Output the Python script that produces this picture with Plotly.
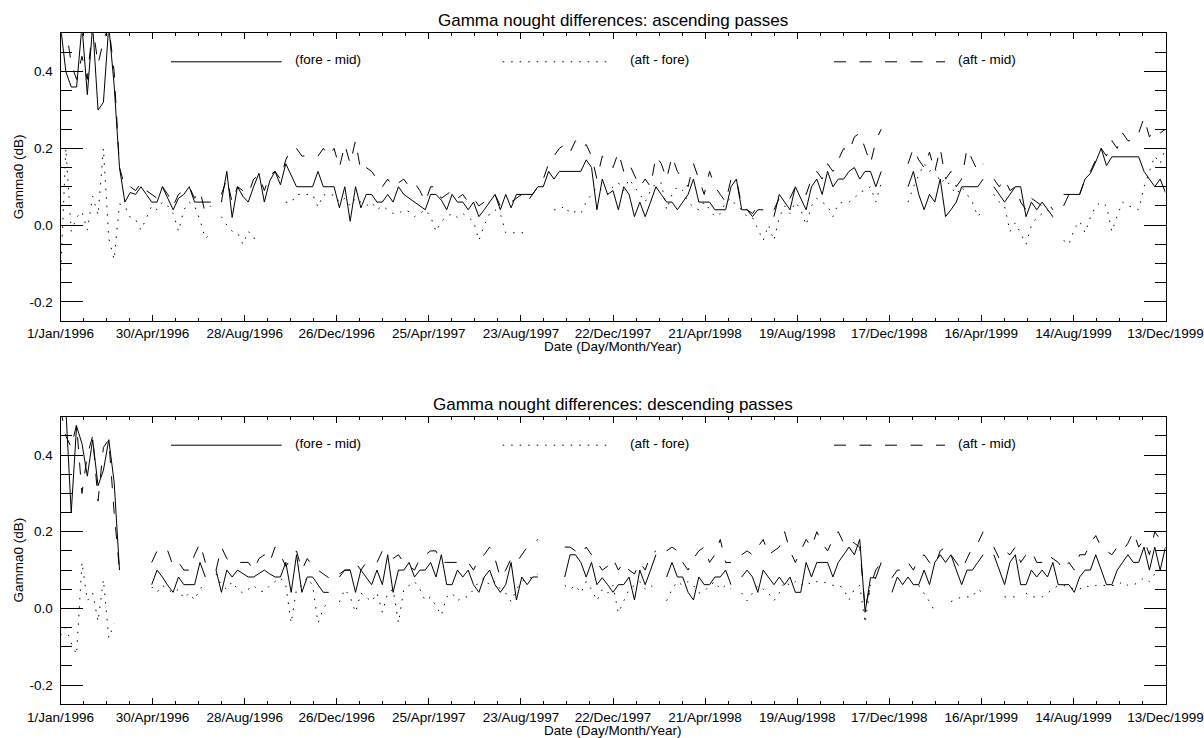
import pandas as pd
import plotly.graph_objects as go

N_WEEKS = 207
dates = pd.date_range("1996-01-01", periods=N_WEEKS, freq="7D")

# ---------------- ascending passes ----------------
asc_fore_mid = [
    0.52, 0.40, 0.36, 0.36, 0.52, 0.34, 0.52, 0.30, 0.32, 0.52,
    0.365, 0.15, 0.06, 0.085, 0.08, 0.10, 0.08, 0.06, 0.06, 0.10,
    0.07, 0.04, 0.07, 0.08, 0.10, 0.06, 0.06, 0.06, 0.06, None,
    0.06, 0.14, 0.02, 0.10, 0.075, 0.06, 0.10, 0.135, 0.06, 0.115,
    0.14, 0.105, 0.16, 0.13, 0.10, 0.10, 0.10, 0.10, 0.14, 0.10,
    0.10, 0.10, 0.045, 0.10, 0.01, 0.10, 0.045, 0.08, 0.08, 0.06,
    0.06, 0.08, 0.06, 0.10, 0.08, 0.07, 0.06, 0.05, 0.04, 0.08,
    0.08, 0.065, 0.04, 0.08, 0.06, 0.06, 0.04, 0.06, 0.022, 0.04,
    0.06, 0.08, 0.04, 0.08, 0.045, 0.08, 0.08, 0.08, 0.08, 0.10,
    0.10, 0.14, 0.12, 0.14, 0.14, 0.14, 0.14, 0.14, 0.17, 0.15,
    0.04, 0.12, 0.08, 0.09, 0.04, 0.10, 0.08, 0.022, 0.06, 0.022,
    0.06, 0.10, 0.08, 0.06, 0.06, 0.04, 0.06, 0.08, 0.12, 0.06,
    0.06, 0.06, 0.04, 0.04, 0.04, 0.10, 0.12, 0.04, 0.04, 0.022,
    0.04, 0.04, None, 0.022, 0.08, 0.06, 0.04, 0.10, 0.07, 0.04,
    0.10, 0.12, 0.08, 0.14, 0.10, 0.12, 0.12, 0.14, 0.15, 0.12,
    0.14, 0.14, 0.10, 0.14, None, None, None, None, 0.10, 0.14,
    0.08, 0.04, 0.08, 0.06, 0.12, 0.022, 0.04, 0.06, 0.10, 0.10,
    0.10, 0.10, 0.12, None, 0.10, 0.08, 0.06, 0.08, 0.10, 0.10,
    0.022, 0.06, 0.04, 0.06, 0.04, 0.022, None, 0.08, 0.08, 0.08,
    0.08, 0.12, 0.135, 0.165, 0.20, 0.155, 0.178, 0.178, 0.178, 0.178,
    0.178, 0.178, 0.14, 0.12, 0.10, 0.12, 0.085,
]
asc_aft_fore = [
    -0.14, 0.20, -0.016, 0.02, 0.035, -0.013, 0.075, 0.026, 0.20, -0.035,
    -0.09, 0.055, 0.05, 0.02, 0.015, -0.013, 0.018, 0.05, 0.04, 0.06,
    0.05, 0.03, -0.016, 0.04, 0.06, 0.05, 0.013, -0.035, -0.022, None,
    0.022, 0.0, -0.016, -0.02, -0.05, -0.016, -0.035, -0.03, None, None,
    None, None, 0.06, 0.058, 0.08, 0.08, 0.08, 0.08, 0.047, 0.08,
    0.075, 0.08, 0.06, 0.07, 0.05, 0.07, 0.06, 0.05, 0.06, 0.04,
    0.05, 0.04, 0.03, 0.03, 0.04, 0.035, 0.022, 0.03, 0.04, 0.022,
    -0.017, 0.01, 0.022, 0.03, 0.02, 0.03, 0.02, 0.01, -0.04, 0.0,
    0.03, 0.04, 0.03, -0.02, -0.02, -0.02, -0.02, -0.02, None, None,
    None, None, 0.04, 0.04, 0.05, 0.03, 0.035, 0.03, 0.06, 0.08,
    0.10, 0.09, 0.08, 0.10, 0.11, 0.09, 0.12, 0.10, 0.08, 0.06,
    0.09, 0.11, 0.11, 0.04, 0.08, 0.10, 0.09, 0.06, 0.047, 0.04,
    0.06, 0.04, 0.022, 0.03, 0.06, 0.07, 0.05, 0.04, 0.022, 0.02,
    -0.01, -0.04, 0.0, -0.04, 0.02, 0.05, 0.03, 0.06, 0.04, 0.0,
    0.05, 0.07, 0.06, 0.05, 0.022, 0.056, 0.06, 0.06, 0.07, 0.087,
    0.09, 0.10, 0.06, 0.11, None, None, None, None, 0.06, 0.10,
    0.13, 0.16, 0.14, 0.15, 0.11, 0.12, 0.10, 0.08, 0.10, 0.08,
    0.06, 0.022, 0.04, None, 0.08, 0.06, 0.05, -0.017, 0.006, -0.02,
    -0.05, 0.0, 0.02, 0.03, 0.04, 0.02, None, -0.04, -0.05, -0.01,
    0.01, -0.02, 0.02, 0.05, 0.06, 0.05, -0.017, 0.025, 0.06, 0.05,
    0.047, 0.04, 0.10, 0.14, 0.18, 0.16, 0.20,
]
asc_aft_mid = [
    0.52, 0.52, 0.42, 0.38, 0.44, 0.38, 0.52, 0.42, 0.48, 0.52,
    0.40, 0.15, 0.10, 0.10, 0.09, 0.11, 0.09, 0.08, 0.07, 0.10,
    0.08, 0.05, 0.08, 0.09, 0.10, 0.07, 0.09, 0.03, 0.05, None,
    0.08, 0.12, 0.06, 0.10, 0.09, 0.08, 0.12, 0.13, 0.09, 0.13,
    0.14, 0.12, 0.17, 0.20, 0.20, 0.18, 0.18, 0.18, 0.18, 0.20,
    0.18, 0.20, 0.15, 0.21, 0.16, 0.22, 0.14, 0.15, 0.14, 0.12,
    0.10, 0.12, 0.10, 0.11, 0.12, 0.10, 0.11, 0.09, 0.06, 0.10,
    0.10, 0.07, 0.08, 0.09, 0.07, 0.08, 0.06, 0.07, 0.05, 0.06,
    0.07, 0.08, 0.05, 0.06, 0.06, 0.07, 0.08, 0.06, 0.08, 0.10,
    0.12, 0.16, 0.18, 0.20, 0.21, 0.19, 0.22, 0.20, 0.21, 0.18,
    0.12, 0.18, 0.17, 0.15, 0.19, 0.14, 0.16, 0.13, 0.10, 0.12,
    0.10, 0.18, 0.16, 0.12, 0.18, 0.14, 0.12, 0.10, 0.16, 0.12,
    0.08, 0.14, 0.10, 0.08, 0.06, 0.12, 0.12, 0.05, 0.04, 0.03,
    0.05, 0.04, None, 0.04, 0.07, 0.06, 0.07, 0.10, 0.09, 0.08,
    0.12, 0.14, 0.12, 0.16, 0.14, 0.17, 0.20, 0.19, 0.23, 0.24,
    0.20, 0.16, 0.22, 0.25, None, None, None, None, 0.16, 0.20,
    0.17, 0.15, 0.19, 0.14, 0.20, 0.12, 0.14, 0.10, 0.12, 0.20,
    0.17, 0.14, 0.16, None, 0.12, 0.10, 0.12, 0.09, 0.10, 0.06,
    0.04, 0.07, 0.06, 0.05, 0.06, 0.04, None, 0.05, 0.08, 0.07,
    0.08, 0.12, 0.14, 0.17, 0.20, 0.18, 0.22, 0.20, 0.24, 0.22,
    0.22, 0.24, 0.28, 0.23, 0.25, 0.24, 0.25,
]

# ---------------- descending passes ----------------
desc_fore_mid = [
    0.52, 0.52, 0.25, 0.475, 0.43, 0.345, 0.44, 0.32, 0.36, 0.44,
    0.33, 0.10, None, None, None, None, None, 0.062, 0.10, 0.082,
    0.06, 0.042, 0.082, 0.062, 0.062, 0.062, 0.12, 0.082, None, 0.10,
    0.042, 0.10, 0.082, 0.10, 0.09, 0.082, 0.082, 0.09, 0.10, 0.09,
    0.082, 0.082, 0.12, 0.042, 0.14, 0.042, 0.082, 0.082, 0.062, 0.042,
    0.042, None, 0.082, 0.10, 0.10, 0.042, 0.10, 0.082, 0.062, 0.10,
    0.062, 0.14, 0.042, 0.10, 0.10, 0.12, 0.082, 0.10, 0.10, 0.12,
    0.082, 0.14, 0.062, 0.062, 0.10, 0.082, 0.10, 0.062, 0.042, 0.082,
    0.10, 0.062, 0.042, 0.062, 0.12, 0.022, 0.082, 0.062, 0.082, 0.082,
    None, None, None, None, 0.082, 0.14, 0.14, 0.12, 0.082, 0.12,
    0.062, 0.08, 0.062, 0.042, 0.062, 0.062, 0.082, 0.022, 0.10, 0.062,
    0.10, 0.14, None, 0.082, 0.12, 0.082, 0.082, 0.042, 0.022, 0.082,
    0.062, 0.062, 0.082, 0.082, 0.10, 0.062, None, 0.082, 0.10, 0.082,
    0.042, 0.10, 0.082, 0.062, 0.082, 0.062, 0.082, 0.042, 0.042, 0.12,
    0.082, 0.12, 0.12, 0.12, 0.082, 0.12, 0.14, 0.16, 0.14, 0.18,
    -0.01, 0.08, 0.08, 0.12, None, 0.042, 0.082, 0.062, 0.082, 0.062,
    0.062, 0.10, 0.062, 0.12, 0.14, 0.12, 0.14, 0.10, 0.062, 0.10,
    0.10, 0.12, 0.14, None, 0.14, 0.10, 0.062, 0.12, 0.14, 0.062,
    0.062, 0.10, 0.082, 0.10, 0.082, 0.12, 0.062, 0.062, 0.062, 0.042,
    0.082, 0.10, 0.10, 0.14, 0.10, 0.062, 0.062, 0.10, 0.12, 0.14,
    0.12, 0.12, 0.16, 0.10, 0.16, 0.10, 0.16,
]
desc_aft_fore = [
    -0.07, -0.05, -0.09, -0.12, 0.12, 0.02, 0.04, -0.034, 0.075, -0.077,
    -0.04, None, None, None, None, None, None, 0.056, 0.042, 0.06,
    0.05, 0.04, 0.05, 0.026, 0.04, 0.022, 0.052, 0.06, None, 0.09,
    0.06, 0.05, 0.07, 0.05, 0.04, 0.05, 0.06, 0.045, 0.044, 0.06,
    0.07, 0.08, 0.06, -0.038, 0.05, 0.06, 0.08, 0.06, -0.038, 0.0,
    0.02, None, 0.017, 0.05, 0.03, -0.01, 0.04, 0.03, 0.017, 0.04,
    -0.01, 0.04, 0.05, -0.038, 0.05, 0.06, 0.07, 0.05, 0.02, 0.03,
    0.004, -0.018, 0.03, 0.04, 0.02, 0.03, 0.03, 0.05, 0.07, 0.08,
    0.06, 0.07, 0.05, 0.04, 0.018, 0.05, 0.07, 0.08, 0.08, 0.09,
    None, None, None, None, 0.06, 0.05, 0.06, 0.04, 0.07, 0.05,
    0.02, 0.05, 0.04, 0.06, -0.012, 0.02, 0.05, 0.06, 0.07, 0.05,
    0.06, 0.05, None, 0.02, 0.05, 0.07, 0.06, 0.07, 0.06, 0.04,
    0.044, 0.06, 0.07, 0.05, 0.06, 0.05, None, 0.04, 0.02, 0.04,
    0.06, 0.05, 0.04, 0.02, 0.04, 0.07, 0.06, 0.07, 0.06, 0.07,
    0.062, 0.07, 0.07, 0.065, 0.06, 0.062, 0.05, 0.022, 0.05, 0.06,
    -0.038, 0.06, 0.08, None, None, None, None, None, None, None,
    0.06, 0.04, 0.018, -0.008, None, None, 0.018, 0.025, 0.03, 0.03,
    0.03, 0.05, 0.04, None, 0.05, None, 0.03, 0.03, 0.03, None,
    0.04, 0.03, 0.03, 0.03, 0.04, 0.05, 0.06, 0.06, 0.055, 0.05,
    0.05, 0.06, 0.055, 0.06, 0.06, 0.06, 0.06, 0.06, 0.07, 0.06,
    0.06, 0.07, 0.08, 0.07, 0.09, 0.10, None,
]
desc_aft_mid = [
    0.52, 0.45, 0.42, 0.48, 0.30, 0.40, 0.45, 0.28, 0.42, 0.44,
    0.25, 0.10, None, None, None, None, None, 0.12, 0.15, 0.16,
    0.15, 0.11, 0.12, 0.10, 0.10, 0.14, 0.17, 0.12, None, 0.10,
    0.16, 0.13, 0.12, 0.12, 0.12, 0.12, 0.10, 0.13, 0.14, 0.12,
    0.16, 0.14, 0.11, 0.13, 0.15, 0.10, 0.13, 0.11, 0.10, 0.09,
    0.08, None, 0.09, 0.10, 0.10, 0.12, 0.10, 0.12, 0.12, 0.12,
    0.15, 0.14, 0.13, 0.14, 0.12, 0.11, 0.10, 0.13, 0.14, 0.15,
    0.15, 0.12, 0.12, 0.12, 0.12, 0.12, 0.12, 0.10, 0.13, 0.14,
    0.16, 0.13, 0.08, 0.10, 0.13, 0.12, 0.14, 0.16, 0.17, 0.18,
    None, None, None, None, 0.16, 0.16, 0.15, 0.14, 0.16, 0.14,
    0.12, 0.10, 0.11, 0.13, 0.10, 0.12, 0.10, 0.09, 0.12, 0.10,
    0.14, 0.15, None, 0.15, 0.16, 0.15, 0.12, 0.10, 0.13, 0.15,
    0.16, 0.12, 0.14, 0.18, 0.12, 0.12, None, 0.14, 0.15, 0.14,
    0.16, 0.18, 0.14, 0.15, 0.16, 0.20, 0.15, 0.12, 0.15, 0.18,
    0.16, 0.20, 0.17, 0.15, 0.18, 0.20, 0.17, 0.18, 0.17, 0.16,
    0.0, 0.06, 0.10, 0.12, None, 0.08, 0.10, 0.10, 0.12, 0.10,
    0.13, 0.14, 0.12, 0.11, 0.15, 0.16, 0.14, 0.12, 0.10, 0.13,
    0.16, 0.17, 0.20, None, 0.16, 0.13, 0.15, 0.14, 0.16, 0.12,
    0.14, 0.15, 0.12, 0.12, 0.14, 0.13, 0.12, 0.10, 0.12, 0.10,
    0.14, 0.14, 0.17, 0.19, 0.16, 0.15, 0.14, 0.16, 0.15, 0.17,
    0.20, 0.16, 0.18, 0.14, 0.20, 0.18, 0.16,
]

tick_labels = ["1/Jan/1996", "30/Apr/1996", "28/Aug/1996", "26/Dec/1996",
               "25/Apr/1997", "23/Aug/1997", "22/Dec/1997", "21/Apr/1998",
               "19/Aug/1998", "17/Dec/1998", "16/Apr/1999", "14/Aug/1999",
               "13/Dec/1999"]
y_tick_vals = [-0.2, 0.0, 0.2, 0.4]
y_tick_text = ["-0.2", "0.0", "0.2", "0.4"]
series_names = ["(fore - mid)", "(aft - fore)", "(aft - mid)"]
panel_titles = ["Gamma nought differences: ascending passes",
                "Gamma nought differences: descending passes"]

FONT = "Liberation Sans, Arial, Helvetica, sans-serif"
W, H = 1204, 738
DOTTED = "1.5px,7px"
DASHED = "12px,13.5px"
dashes = ["solid", DOTTED, DASHED]

x_start = pd.Timestamp("1996-01-01")
x_end = pd.Timestamp("1999-12-13")
span = x_end - x_start
major = [x_start + span * k / 12 for k in range(13)]
minor = [x_start + span * k / 48 for k in range(49) if k % 4]

X0, X1 = 60.5, 1165.5
panels = [
    dict(top=33.3, bot=321.0, data=[asc_fore_mid, asc_aft_fore, asc_aft_mid]),
    dict(top=416.7, bot=704.3, data=[desc_fore_mid, desc_aft_fore, desc_aft_mid]),
]

fig = go.Figure()
annotations = []
shapes = []


def px(x):
    return x / W


def py(y):
    return 1 - y / H


for p, panel in enumerate(panels):
    xa = "x" if p == 0 else "x2"
    ya = "y" if p == 0 else "y2"
    for s, vals in enumerate(panel["data"]):
        fig.add_trace(go.Scatter(
            x=dates, y=vals, mode="lines", xaxis=xa, yaxis=ya,
            line=dict(color="black", width=1, dash=dashes[s]),
            connectgaps=False, showlegend=False, name=series_names[s]))

    axis_suffix = "" if p == 0 else "2"
    fig.update_layout(**{
        "xaxis" + axis_suffix: dict(
            domain=[px(X0), px(X1)], anchor=ya, type="date", automargin=False,
            range=[x_start, x_end], tickmode="array", tickvals=major,
            ticktext=tick_labels, ticks="inside", ticklen=6, tickwidth=1,
            tickcolor="black", showline=True, linecolor="black", linewidth=1,
            mirror="allticks", showgrid=False, zeroline=False, tickangle=0,
            tickfont=dict(family=FONT, size=13.5, color="black"),
            minor=dict(tickmode="array", tickvals=minor, ticks="inside",
                       ticklen=3, tickwidth=1, tickcolor="black", showgrid=False),
        ),
        "yaxis" + axis_suffix: dict(
            domain=[py(panel["bot"]), py(panel["top"])], anchor=xa, automargin=False,
            range=[-0.25, 0.5], tickmode="array", tickvals=y_tick_vals,
            ticktext=y_tick_text, ticks="inside", ticklen=22, tickwidth=1,
            tickcolor="black", showline=True, linecolor="black", linewidth=1,
            mirror="allticks", showgrid=False, zeroline=False,
            ticklabelstandoff=4,
            tickfont=dict(family=FONT, size=13.5, color="black"),
            minor=dict(tickmode="linear", tick0=0, dtick=0.05, ticks="inside",
                       ticklen=11, tickwidth=1, tickcolor="black", showgrid=False),
        ),
    })

    top, bot = panel["top"], panel["bot"]
    annotations.append(dict(text=panel_titles[p], x=px((X0 + X1) / 2), y=py(top - 12.5),
                            xref="paper", yref="paper", showarrow=False,
                            xanchor="center", yanchor="middle",
                            font=dict(family=FONT, size=17, color="black")))
    annotations.append(dict(text="Date (Day/Month/Year)", x=px((X0 + X1) / 2), y=py(bot + 26),
                            xref="paper", yref="paper", showarrow=False,
                            xanchor="center", yanchor="middle",
                            font=dict(family=FONT, size=13.5, color="black")))
    annotations.append(dict(text="Gamma0 (dB)", x=px(18), y=py((top + bot) / 2),
                            xref="paper", yref="paper", showarrow=False, textangle=-90,
                            xanchor="center", yanchor="middle",
                            font=dict(family=FONT, size=13.5, color="black")))
    leg_y = top + 28.5
    leg = [(171, 281.7, 293), (502.7, 611.7, 628), (834, 945, 955.7)]
    for s, (a, b, t) in enumerate(leg):
        shapes.append(dict(type="line", xref="paper", yref="paper",
                           x0=px(a), x1=px(b), y0=py(leg_y), y1=py(leg_y),
                           line=dict(color="black", width=1, dash=dashes[s])))
        annotations.append(dict(text=series_names[s], x=px(t), y=py(leg_y - 2),
                                xref="paper", yref="paper", showarrow=False,
                                xanchor="left", yanchor="middle",
                                font=dict(family=FONT, size=13.5, color="black")))

fig.update_layout(
    width=W, height=H, margin=dict(l=0, r=0, t=0, b=0, autoexpand=False),
    paper_bgcolor="white", plot_bgcolor="white",
    annotations=annotations, shapes=shapes, showlegend=False,
)

fig.write_html(
    "out.html",
    config={"displayModeBar": False, "staticPlot": True},
    post_script="document.body.style.margin='0';document.body.style.padding='0';"
                "document.body.style.overflow='hidden';",
)
